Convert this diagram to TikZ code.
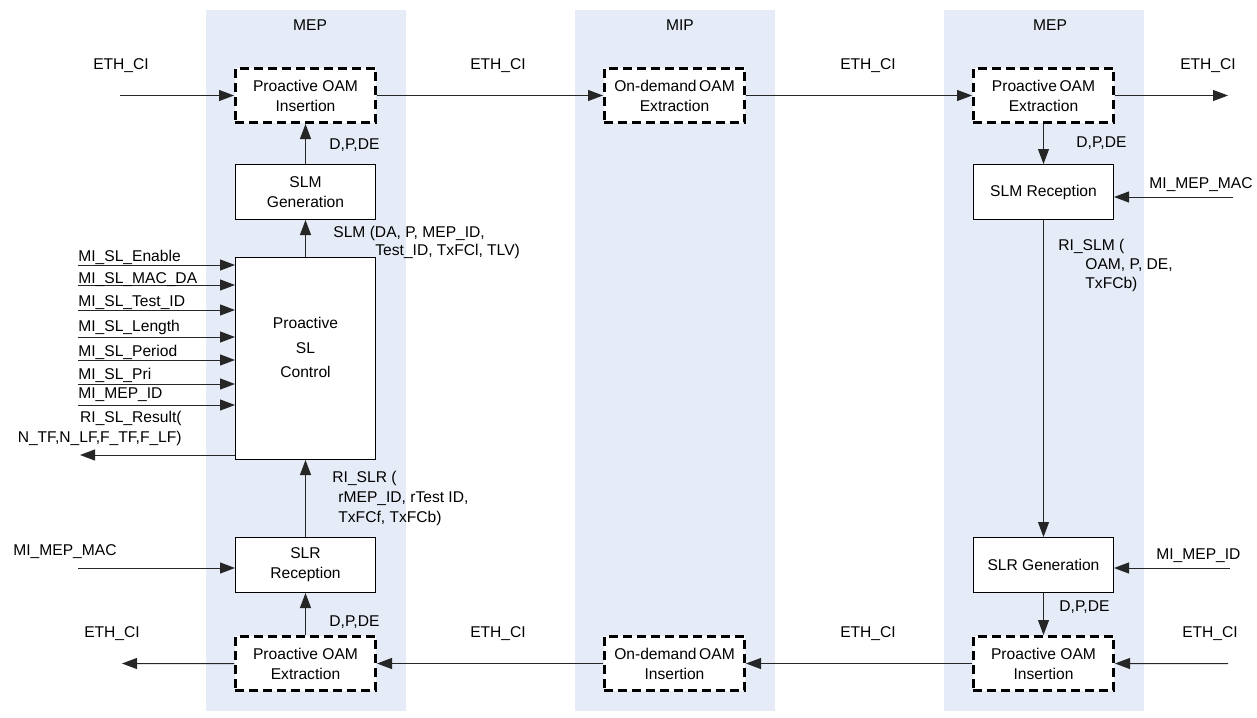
\documentclass[tikz,border=0pt]{standalone}
\usepackage{fontspec}
\setmainfont{Liberation Sans}
\usepackage{tikz}
\usetikzlibrary{positioning,arrows.meta}
\definecolor{fundal}{RGB}{230,236,247}
\tikzset{
  banda/.style    = {fill=fundal, inner sep=0pt, minimum width=100pt, minimum height=350.5pt},
  bloc/.style     = {draw, fill=white, line width=0.5pt, align=center, inner sep=2pt,
                     minimum width=70pt, minimum height=27.5pt, font=\fontsize{7.8}{10}\selectfont},
  blocoam/.style  = {bloc, line width=1.3pt, dash pattern=on 4.5pt off 2.5pt,
                     minimum width=70.2pt, minimum height=27.2pt},
  eticheta/.style = {font=\fontsize{7.8}{10}\selectfont, inner sep=1pt},
  sageata/.style  = {-{Triangle[length=7.5pt,width=5.5pt]}, line width=0.5pt, draw=black!85},
}
\begin{document}
\begin{tikzpicture}[x=0.5pt, y=-0.5pt]
  \useasboundingbox (0,0) rectangle (1257,717);

  % fundaluri MEP / MIP / MEP
  \node[banda] (bandaL) at (306,360.5) {};
  \node[banda] (bandaM) at (675,360.5) {};
  \node[banda] (bandaR) at (1044,360.5) {};
  \node[eticheta] (titluL) at (310,25) {MEP};
  \node[eticheta] (titluM) at (680,25) {MIP};
  \node[eticheta] (titluR) at (1050,25) {MEP};

  % randul de sus
  \node[blocoam] (insL) at (305.5,95.5) {Proactive OAM\\Insertion};
  \node[blocoam, right=113pt of insL] (extM) {On-demand\,OAM\\Extraction};
  \node[blocoam, right=113pt of extM] (extR) {Proactive\,OAM\\Extraction};

  % coloana stanga
  \node[bloc, below=20pt of insL] (genL) {SLM\\Generation};
  \node[bloc, minimum height=101pt, below=18.5pt of genL] (ctrl) {};
  \node[eticheta, align=center, font=\fontsize{7.8}{12.25}\selectfont]
      (ctrltext) at ([yshift=5.5pt]ctrl.center) {Proactive\\SL\\Control};
  \node[bloc, below=38.5pt of ctrl] (recL) {SLR\\Reception};
  \node[blocoam, below=21pt of recL] (extL) {Proactive OAM\\Extraction};

  % randul de jos
  \node[blocoam, right=113pt of extL] (insM) {On-demand\,OAM\\Insertion};

  % coloana dreapta
  \node[bloc, below=20pt of extR] (recR) {SLM Reception};
  \node[bloc, below=158.5pt of recR] (genR) {SLR Generation};
  \node[blocoam, below=21pt of genR] (insR) {Proactive OAM\\Insertion};

  % capete libere
  \coordinate (inTL) at (120,95.5);
  \coordinate (outTR) at (1228,95.5);
  \coordinate (inBR) at (1228,663.5);
  \coordinate (outBL) at (122,663.5);
  \coordinate (inMacL) at (78,568);
  \coordinate (inMacR) at (1233,197);
  \coordinate (inIdR) at (1230,568);
  \coordinate (outRes) at (80,455);

  % fluxul ETH_CI
  \draw[sageata] (inTL) -- (insL);
  \draw[sageata] (insL) -- (extM);
  \draw[sageata] (extM) -- (extR);
  \draw[sageata] (extR) -- (outTR);
  \draw[sageata] (inBR) -- (insR);
  \draw[sageata] (insR) -- (insM);
  \draw[sageata] (insM) -- (extL);
  \draw[sageata] (extL) -- (outBL);

  \node[eticheta] (ethA) at (121,66) {ETH\_CI};
  \node[eticheta] (ethB) at (498,66) {ETH\_CI};
  \node[eticheta] (ethC) at (868,66) {ETH\_CI};
  \node[eticheta] (ethD) at (1208,66) {ETH\_CI};
  \node[eticheta] (ethE) at (112,634) {ETH\_CI};
  \node[eticheta] (ethF) at (498,634) {ETH\_CI};
  \node[eticheta] (ethG) at (868,634) {ETH\_CI};
  \node[eticheta] (ethH) at (1210,634) {ETH\_CI};

  % coloana stanga
  \draw[sageata] (genL) -- (insL);
  \draw[sageata] (ctrl) -- (genL);
  \draw[sageata] (recL) -- (ctrl);
  \draw[sageata] (extL) -- (recL);
  \draw[sageata] (inMacL) -- (inMacL -| recL.west);
  \draw[sageata] (outRes -| ctrl.west) -- (outRes);

  \node[eticheta, anchor=west] (dpdeA) at (327,145) {D,P,DE};
  \node[eticheta, anchor=west] (dpdeB) at (327,622) {D,P,DE};
  \node[eticheta, anchor=north west, align=left] (slm) at (331,224)
      {SLM (DA, P, MEP\_ID,\\[-1pt]\hspace*{21pt}Test\_ID, TxFCl, TLV)};
  \node[eticheta, anchor=north west, align=left] (rislr) at (330,469)
      {RI\_SLR (\\\hspace*{3pt}rMEP\_ID, rTest ID,\\\hspace*{3pt}TxFCf, TxFCb)};
  \node[eticheta, anchor=west] (macL) at (11,552) {MI\_MEP\_MAC};
  \node[eticheta, anchor=north east, align=right] (rezultat) at (184,409)
      {RI\_SL\_Result(\\N\_TF,N\_LF,F\_TF,F\_LF)};

  \foreach \y/\b/\txt [count=\i] in {265/261/MI\_SL\_Enable, 285/283/MI\_SL\_MAC\_DA,
      310/306/MI\_SL\_Test\_ID, 337/331/MI\_SL\_Length, 360/356/MI\_SL\_Period,
      384/379/MI\_SL\_Pri, 405/398/MI\_MEP\_ID} {
    \coordinate (in\i) at (78,\y);
    \draw[sageata] (in\i) -- (in\i -| ctrl.west);
    \node[eticheta, anchor=base west, inner sep=0pt] (et\i) at (78,\b) {\txt};
  }

  % coloana dreapta
  \draw[sageata] (extR) -- (recR);
  \draw[sageata] (recR) -- (genR);
  \draw[sageata] (genR) -- (insR);
  \draw[sageata] (inMacR) -- (inMacR -| recR.east);
  \draw[sageata] (inIdR) -- (inIdR -| genR.east);

  \node[eticheta, anchor=west] (dpdeC) at (1074,143) {D,P,DE};
  \node[eticheta, anchor=west] (dpdeD) at (1057,607) {D,P,DE};
  \node[eticheta, anchor=east] (macR) at (1255,185) {MI\_MEP\_MAC};
  \node[eticheta, anchor=west] (idR) at (1154,556) {MI\_MEP\_ID};
  \node[eticheta, anchor=north west, align=left] (rislm) at (1056,237)
      {RI\_SLM (\\[-0.5pt]\hspace*{13.5pt}OAM, P, DE,\\[-0.5pt]\hspace*{13.5pt}TxFCb)};
\end{tikzpicture}
\end{document}
